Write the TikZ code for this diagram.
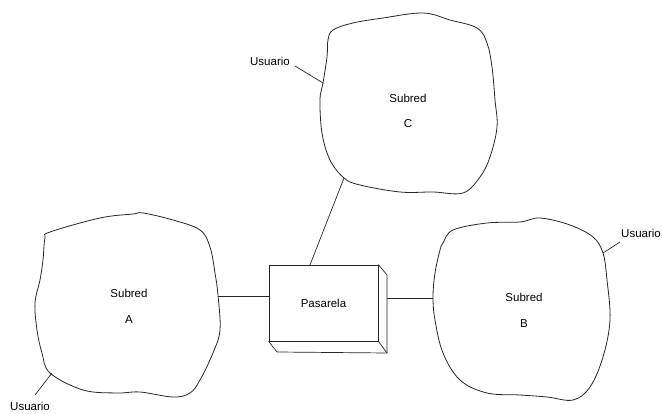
\documentclass[tikz,border=0pt]{standalone}
\usepackage{fontspec}
\setmainfont{Liberation Sans}
\begin{document}
\begin{tikzpicture}[x=1pt,y=-1pt,
  blob/.style={draw=black!85,line width=0.8pt},
  wire/.style={draw=black!85,line width=0.7pt},
  lbl/.style={font=\fontsize{11.5}{13}\selectfont,inner sep=0pt},
  gw/.style={draw=black!85,line width=0.8pt,minimum width=109pt,minimum height=76pt,inner sep=0pt,font=\fontsize{11.5}{13}\selectfont}]
\useasboundingbox (0,0) rectangle (662,414);
% Subred A
\draw[blob] plot[smooth cycle,tension=0.6] coordinates {
 (50,232) (100,218) (133,214) (143,213) (173,220) (200,230) (210,247) (215,273)
 (218,295) (220,330) (213,353) (200,380) (190,393) (173,397) (140,392) (117,393)
 (83,390) (50,373) (42,353) (37,330) (35,303) (40,280) (43,260) (45,238)};
% Subred B
\draw[blob] plot[smooth cycle,tension=0.6] coordinates {
 (443,243) (453,230) (487,223) (520,222) (540,218) (570,225) (593,237) (603,253)
 (607,280) (610,320) (603,357) (590,387) (573,400) (547,397) (520,395) (487,393)
 (460,380) (443,353) (435,320) (433,297) (435,273) (440,250)};
% Subred C
\draw[blob] plot[smooth cycle,tension=0.6] coordinates {
 (333,30) (353,23) (383,18) (423,13) (450,20) (477,28) (487,43) (492,67)
 (495,100) (497,127) (490,157) (480,177) (463,193) (433,192) (400,192) (360,185)
 (344,178) (330,160) (322,133) (320,100) (323,83) (327,57) (328,40)};
% texts
\node[lbl] (sa) at (129,293) {Subred};
\node[lbl] (la) at (129,320) {A};
\node[lbl] (sb) at (524,297) {Subred};
\node[lbl] (lb) at (524,324) {B};
\node[lbl] (sc) at (408,98) {Subred};
\node[lbl] (lc) at (408,124) {C};
% gateway box
\node[gw] (box) at (323.5,303) {Pasarela};
\coordinate (bt) at (387,275);
\coordinate (bb) at (387,353);
\coordinate (bl) at (277,352);
\draw[wire] (box.north east) -- (bt) -- (bb) -- (bl) -- (box.south west);
\draw[wire] (box.south east) -- (bb);
% attachment points
\coordinate (aR) at (218,296);
\coordinate (bL) at (433,298);
\coordinate (cB) at (344,178);
\coordinate (bx) at (310,265);
\draw[wire] (aR) -- (box.west |- aR);
\draw[wire] (box.east |- bL) ++(9,0) coordinate (bE) -- (bL);
\draw[wire] (bx) -- (cB);
% users
\node[lbl,anchor=west] (ua) at (10,406) {Usuario};
\node[lbl,anchor=west] (ub) at (621,233) {Usuario};
\node[lbl] (uc) at (270,61) {Usuario};
\coordinate (pa) at (52,373);
\coordinate (pb) at (603,253);
\coordinate (pc) at (323,83);
\draw[wire] (pa) -- (35,395);
\draw[wire] (pb) -- (620,242);
\draw[wire] (pc) -- (295,66);
\end{tikzpicture}
\end{document}
